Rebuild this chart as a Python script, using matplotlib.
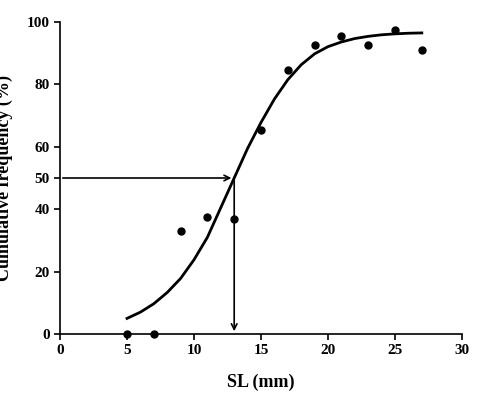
import numpy as np
import matplotlib.pyplot as plt

plt.rcParams['font.family'] = ['Liberation Serif', 'DejaVu Serif']
plt.rcParams['font.weight'] = 'bold'

# observed points
obs_x = [5, 7, 9, 11, 13, 15, 17, 19, 21, 23, 25, 27]
obs_y = [0, 0, 33, 37.5, 37, 65.5, 84.5, 92.5, 95.5, 92.5, 97.5, 91]

# fitted curve
fit_x = [5, 6, 7, 8, 9, 10, 11, 12, 13, 14, 15, 16, 17, 18, 19, 20, 21, 22, 23, 24, 25, 26, 27]
fit_y = [5, 7, 9.7, 13.3, 17.8, 23.8, 31, 40.5, 50, 59.5, 67.8, 75.3, 81.5, 86.3, 89.8, 92.1, 93.6, 94.7, 95.4, 95.9, 96.2, 96.4, 96.5]

fig = plt.figure(figsize=(4.78, 4.13), dpi=100)
ax = fig.add_axes([60 / 478, 1 - 334 / 413, 402 / 478, 312 / 413])

ax.plot(fit_x, fit_y, color='black', lw=2)
ax.scatter(obs_x, obs_y, color='black', s=25, zorder=3, clip_on=False)

ax.annotate('', xy=(13, 50), xytext=(0, 50),
            arrowprops=dict(arrowstyle='->', color='black', lw=1.2))
ax.annotate('', xy=(13, 0), xytext=(13, 50),
            arrowprops=dict(arrowstyle='->', color='black', lw=1.2))

ax.set_xlim(0, 30)
ax.set_ylim(0, 100)
ax.set_xticks([0, 5, 10, 15, 20, 25, 30])
ax.set_yticks([0, 20, 40, 50, 60, 80, 100])
ax.spines['top'].set_visible(False)
ax.spines['right'].set_visible(False)
ax.spines['left'].set_linewidth(1.2)
ax.spines['bottom'].set_linewidth(1.2)
ax.tick_params(labelsize=11, direction='out', length=4, width=1.2)
ax.set_xlabel('SL (mm)', fontsize=13, fontweight='bold', labelpad=12)
ax.set_ylabel('Cumulative frequency (%)', fontsize=13, fontweight='bold', labelpad=10)

fig.savefig('out.png', dpi=100)
